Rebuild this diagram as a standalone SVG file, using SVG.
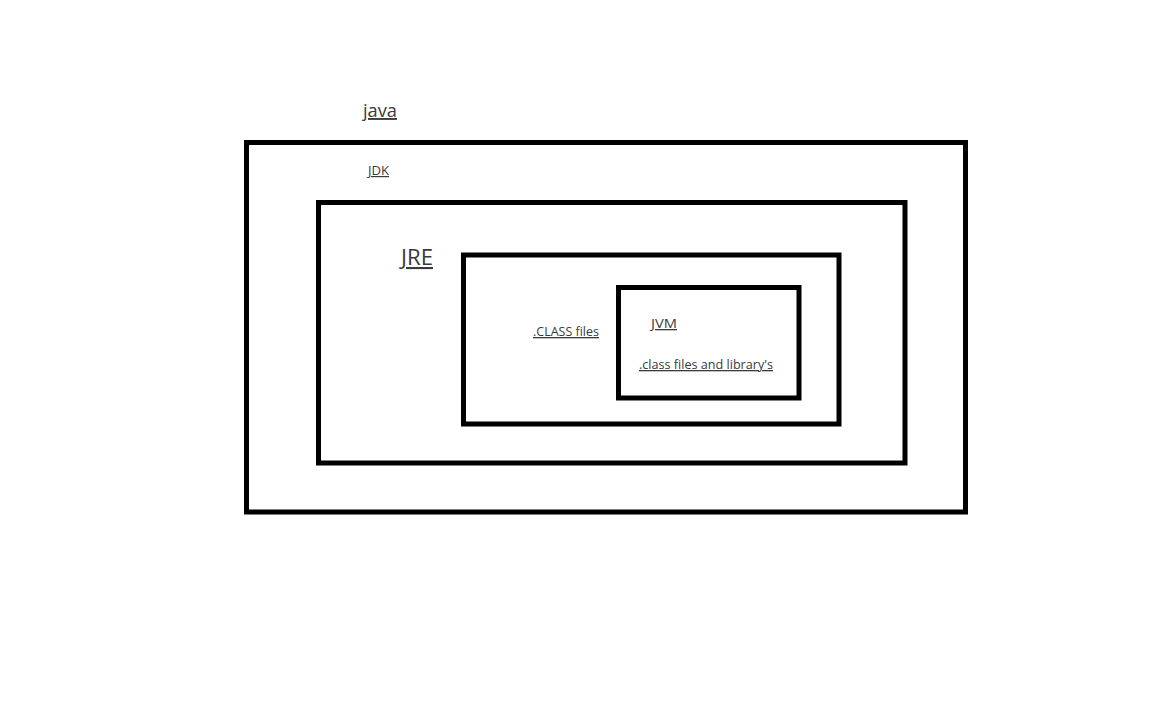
<svg xmlns="http://www.w3.org/2000/svg" width="1152" height="720" viewBox="0 0 1152 720">
<style>
.box{fill:none;stroke:#000;stroke-width:5}
text{font-family:"Open Sans","Liberation Sans",sans-serif;fill:#3a3a3a;text-decoration:underline}
</style>
<rect width="1152" height="720" fill="#fff"/>
<g id="java"><rect class="box" x="246.5" y="142.5" width="719" height="369.5"/><text x="363" y="117" font-size="19" textLength="34" lengthAdjust="spacingAndGlyphs">java</text></g>
<g id="jdk"><rect class="box" x="318.5" y="202.5" width="586.5" height="260.5"/><text x="368" y="175" font-size="12" textLength="21" lengthAdjust="spacingAndGlyphs">JDK</text></g>
<g id="jre"><rect class="box" x="463.5" y="255" width="375.5" height="169"/><text x="401" y="265" font-size="21" textLength="32" lengthAdjust="spacingAndGlyphs">JRE</text><text x="533" y="336" font-size="13" textLength="66" lengthAdjust="spacingAndGlyphs">.CLASS files</text></g>
<g id="jvm"><rect class="box" x="618.5" y="287.5" width="180.5" height="110.5"/><text x="651" y="328" font-size="13" textLength="26" lengthAdjust="spacingAndGlyphs">JVM</text><text x="639" y="369" font-size="13" textLength="134" lengthAdjust="spacingAndGlyphs">.class files and library's</text></g>
<g id="connectors"/>
</svg>
